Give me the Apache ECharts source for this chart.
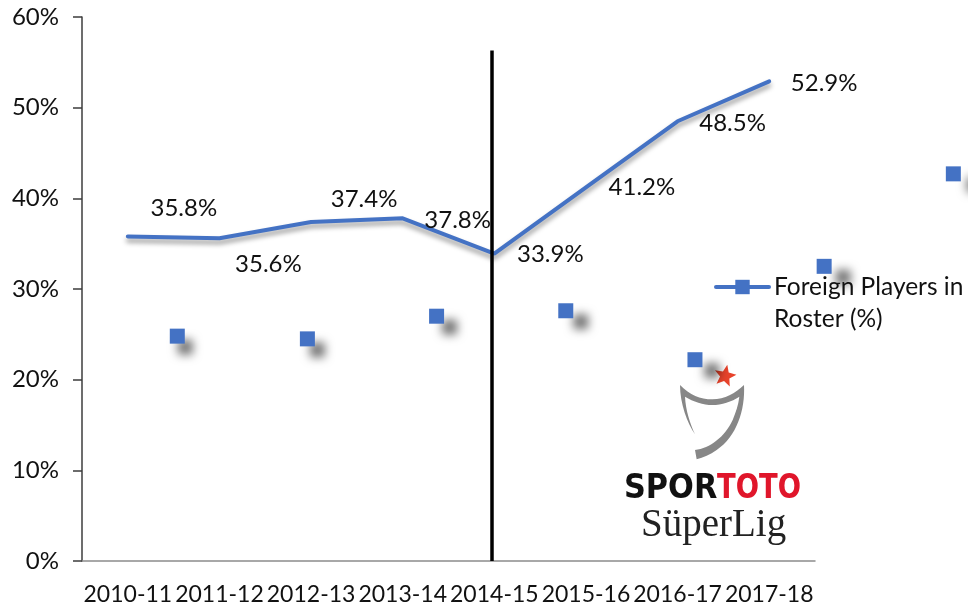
<!DOCTYPE html>
<html>
<head>
<meta charset="utf-8">
<style>
html, body { margin: 0; padding: 0; background: #fff; }
#main { width: 968px; height: 611px; }
</style>
<script src="https://cdn.jsdelivr.net/npm/echarts@6/dist/echarts.min.js"></script>
</head>
<body>
<div id="main"></div>
<script>
var seasons = ['2010-11', '2011-12', '2012-13', '2013-14', '2014-15', '2015-16', '2016-17', '2017-18'];
var foreignPct = [35.8, 35.6, 37.4, 37.8, 33.9, 41.2, 48.5, 52.9];
var yTicks = [0, 10, 20, 30, 40, 50, 60];
var seriesName = 'Foreign Players in Roster (%)';

// stray square markers, x in season widths from the axis origin
var strayX = [1.04, 2.46, 3.87, 5.28, 6.69, 8.10, 9.51];
var strayY = [24.8, 24.5, 27.0, 27.6, 22.2, 32.5, 42.7];
var dividerX = 4.476;
var dividerTop = 56.3;

// where each data label sits relative to its point
var labelShift = [[56, -28], [49, 26], [53, -23], [55, 2], [56, 1], [56, 0], [55, 2], [55, 2]];
var shadowShift = [8, 10, 13, 15, 17, 19, 21];

var font = 'Lato';

// star of the league logo
var starPoints = [];
for (var i = 0; i < 10; i++) {
	var r = i % 2 == 0 ? 11.5 : 5;
	var a = -Math.PI / 2 + 0.2 + i * Math.PI / 5;
	starPoints.push([725 + r * Math.cos(a), 376 + r * Math.sin(a)]);
}

var cupPath = 'M240 135 C270 165 300 178 337 178 C375 178 405 160 432 135 C436 210 410 290 350 330 ' +
	'C330 345 310 352 290 358 L285 330 C330 325 375 290 398 240 C408 215 415 195 418 170 ' +
	'C395 185 365 195 337 195 C310 195 280 185 255 170 C257 210 270 250 285 283 C262 250 240 190 240 135 Z';
echarts.graphic.registerShape('leagueCup', echarts.graphic.extendPath(cupPath, {}));

var chart = echarts.init(document.getElementById('main'), null, { renderer: 'canvas' });

chart.setOption({
	animation: false,
	backgroundColor: '#fff',
	grid: [
		{ left: 82, top: 17, width: 733, height: 544 },
		{ left: 82, top: 17, width: 886, height: 544 }
	],
	legend: {
		left: 714,
		top: 239,
		padding: 0,
		itemWidth: 53,
		itemHeight: 18,
		itemGap: 0,
		data: [seriesName],
		// blank first line keeps the icon level with the first text line
		formatter: function(name) {
			return ' \nForeign Players in\nRoster (%)';
		},
		lineStyle: { width: 4 },
		textStyle: {
			fontFamily: font,
			fontSize: 24.5,
			color: '#111',
			lineHeight: 32
		}
	},
	xAxis: [{
		type: 'category',
		data: seasons,
		gridIndex: 0,
		boundaryGap: true,
		axisLine: { lineStyle: { color: '#8c8c8c', width: 1.5 } },
		axisTick: { length: 9, lineStyle: { color: '#8c8c8c', width: 1.5 } },
		axisLabel: { interval: 0, margin: 22, fontFamily: font, fontSize: 23, color: '#111' }
	}, {
		type: 'value',
		gridIndex: 1,
		min: 0,
		max: 9.67,
		show: false
	}],
	yAxis: [{
		type: 'value',
		gridIndex: 0,
		min: 0,
		max: 60,
		interval: 10,
		splitLine: { show: false },
		axisLine: { show: true, lineStyle: { color: '#3c3c3c', width: 1.5 } },
		axisTick: { show: true, length: 9, lineStyle: { color: '#3c3c3c', width: 1.5 } },
		axisLabel: {
			margin: 23,
			padding: [4, 0, 0, 0],
			fontFamily: font,
			fontSize: 24,
			color: '#111',
			formatter: function(v) {
				return yTicks.indexOf(v) >= 0 ? v + '%' : '';
			}
		}
	}, {
		type: 'value',
		gridIndex: 1,
		min: 0,
		max: 60,
		show: false
	}],
	series: [{
		name: seriesName,
		type: 'line',
		xAxisIndex: 0,
		yAxisIndex: 0,
		symbol: 'rect',
		symbolSize: 14,
		showSymbol: true,
		showAllSymbol: true,
		itemStyle: { color: '#4472c4' },
		lineStyle: {
			color: '#4472c4',
			width: 4,
			cap: 'round',
			shadowColor: 'rgba(0,0,0,0.4)',
			shadowBlur: 5,
			shadowOffsetY: 4
		},
		data: foreignPct.map(function(v, i) {
			return {
				value: v,
				symbolSize: 0,
				label: {
					show: true,
					position: 'inside',
					offset: labelShift[i],
					formatter: v.toFixed(1) + '%',
					fontFamily: font,
					fontSize: 24,
					color: '#111'
				}
			};
		})
	}, {
		name: 'stray markers',
		type: 'scatter',
		xAxisIndex: 1,
		yAxisIndex: 1,
		symbol: 'rect',
		symbolSize: 15,
		clip: false,
		data: strayX.map(function(x, i) {
			return {
				value: [x, strayY[i]],
				itemStyle: {
					color: '#4472c4',
					opacity: 1,
					shadowColor: 'rgba(0,0,0,0.55)',
					shadowBlur: 10,
					shadowOffsetX: shadowShift[i],
					shadowOffsetY: 11
				}
			};
		}),
		markLine: {
			silent: true,
			symbol: 'none',
			label: { show: false },
			lineStyle: { color: '#000', width: 3.5, type: 'solid' },
			data: [[{ xAxis: dividerX, yAxis: 0 }, { xAxis: dividerX, yAxis: dividerTop }]]
		}
	}],
	graphic: [
		{
			type: 'leagueCup',
			x: 600,
			y: 340,
			scaleX: 1 / 3,
			scaleY: 1 / 3,
			style: { fill: '#878787' }
		},
		{ type: 'polygon', shape: { points: starPoints }, style: { fill: '#e8432b' } },
		{
			type: 'text',
			x: 624,
			y: 473,
			scaleX: 0.92,
			style: { text: 'SPOR', fill: '#111', font: 'bold 33px "DejaVu Sans"' }
		},
		{
			type: 'text',
			x: 717,
			y: 473,
			scaleX: 0.83,
			style: { text: 'TOTO', fill: '#e0162b', font: 'bold 33px "DejaVu Sans"' }
		},
		{
			type: 'text',
			x: 641,
			y: 506,
			style: { text: 'SüperLig', fill: '#222', font: '39px "Liberation Serif"' }
		}
	]
});
</script>
</body>
</html>
